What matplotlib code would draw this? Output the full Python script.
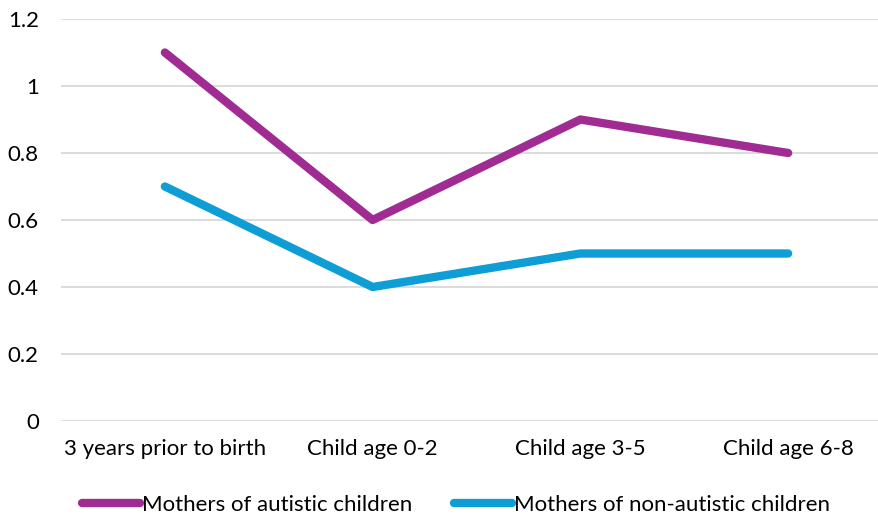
import matplotlib.pyplot as plt

plt.rcParams['font.family'] = ['Lato', 'DejaVu Sans']

# Category labels and series values
categories = ['3 years prior to birth', 'Child age 0-2', 'Child age 3-5', 'Child age 6-8']
autistic = [1.1, 0.6, 0.9, 0.8]
non_autistic = [0.7, 0.4, 0.5, 0.5]
yticks = [0, 0.2, 0.4, 0.6, 0.8, 1.0, 1.2]
ytick_labels = ['0', '0.2', '0.4', '0.6', '0.8', '1', '1.2']

fig = plt.figure(figsize=(8.79, 5.19), dpi=100)
ax = fig.add_axes([61 / 879, 98 / 519, 831 / 879, 402 / 519])

x = range(len(categories))
ax.plot(x, autistic, color='#A02B93', lw=6, solid_capstyle='round',
        solid_joinstyle='round', label='Mothers of autistic children', zorder=3)
ax.plot(x, non_autistic, color='#0E9ED5', lw=6, solid_capstyle='round',
        solid_joinstyle='round', label='Mothers of non-autistic children', zorder=3)

ax.set_xlim(-0.5, 3.5)
ax.set_ylim(0, 1.2)
ax.set_yticks(yticks)
ax.set_yticklabels(ytick_labels)
ax.set_xticks(list(x))
ax.set_xticklabels(categories)

ax.grid(axis='y', color='#D9D9D9', lw=1.3)
ax.set_axisbelow(True)
for s in ax.spines.values():
    s.set_visible(False)
ax.tick_params(length=0, labelsize=16, colors='#000000')
ax.tick_params(axis='y', pad=16)
ax.tick_params(axis='x', pad=13)

fig.legend(loc='center', bbox_to_anchor=(456 / 879, 1 - 505 / 519), ncol=2,
           frameon=False, fontsize=16, handlelength=2.6, handletextpad=0.1,
           columnspacing=1.9)

fig.savefig('out.png', dpi=100)
